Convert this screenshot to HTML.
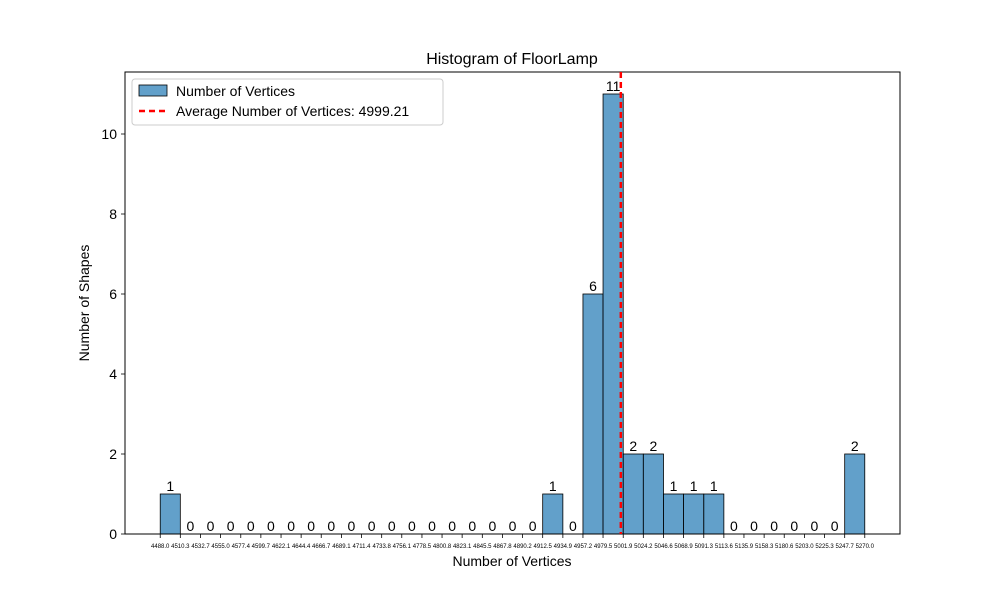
<!DOCTYPE html>
<html><head><meta charset="utf-8"><style>body{margin:0;background:#fff}svg{font-family:"Liberation Sans","DejaVu Sans",sans-serif}</style></head>
<body>
<svg id="chart" width="1000" height="600" xmlns="http://www.w3.org/2000/svg">
<rect width="1000" height="600" fill="#fff"/>
<text x="512" y="64" font-size="16" text-anchor="middle">Histogram of FloorLamp</text>
<g id="bars"></g><g id="labels"></g><g id="ticks"></g>
<rect x="125" y="72" width="775" height="462" fill="none" stroke="#000" stroke-width="1"/>
<text x="512" y="566" font-size="14" text-anchor="middle">Number of Vertices</text>
<text transform="translate(89,303) rotate(-90)" font-size="14" text-anchor="middle">Number of Shapes</text>
<g>
<rect x="132" y="79" width="311" height="46" fill="#fff" stroke="#ccc" rx="3"/>
<rect x="139" y="85" width="28" height="11" fill="#1f77b4" fill-opacity="0.7" stroke="#000" stroke-width="0.8"/>
<text x="176" y="96" font-size="14">Number of Vertices</text>
<line x1="139" y1="111" x2="167" y2="111" stroke="red" stroke-width="2.5" stroke-dasharray="6,4"/>
<text x="176" y="116" font-size="14">Average Number of Vertices: 4999.21</text>
</g>
</svg>
<script>
const binEdges=[4488.0,4510.3,4532.7,4555.0,4577.4,4599.7,4622.1,4644.4,4666.7,4689.1,4711.4,4733.8,4756.1,4778.5,4800.8,4823.1,4845.5,4867.8,4890.2,4912.5,4934.9,4957.2,4979.5,5001.9,5024.2,5046.6,5068.9,5091.3,5113.6,5135.9,5158.3,5180.6,5203.0,5225.3,5247.7,5270.0];
const counts=[1,0,0,0,0,0,0,0,0,0,0,0,0,0,0,0,0,0,0,1,0,6,11,2,2,1,1,1,0,0,0,0,0,0,2];
const yTicks=[0,2,4,6,8,10];
const average=4999.21;
const NS="http://www.w3.org/2000/svg";
const xmin=binEdges[0],xmax=binEdges[binEdges.length-1],pad=(xmax-xmin)*0.05;
const ymaxV=Math.max(...counts)*1.05;
const X=v=>125+(v-(xmin-pad))/((xmax-xmin)+2*pad)*775;
const Y=v=>534-v/ymaxV*462;
function mk(t,a,p){const e=document.createElementNS(NS,t);for(const k in a)e.setAttribute(k,a[k]);p.appendChild(e);return e;}
const bars=document.getElementById('bars'),labels=document.getElementById('labels'),ticks=document.getElementById('ticks');
counts.forEach((c,i)=>{
 const x0=X(binEdges[i]),x1=X(binEdges[i+1]);
 const r=mk('rect',{x:x0,y:Y(c),width:x1-x0,height:Y(0)-Y(c),fill:'#1f77b4','fill-opacity':0.7,stroke:'#000','stroke-width':0.8},bars);
 
 
 const t=mk('text',{x:(x0+x1)/2,y:Y(c)-3,'font-size':14,'text-anchor':'middle'},labels);
 t.textContent=c;
 
 
});
binEdges.forEach(v=>{
 const x=X(v);
 mk('line',{x1:x,y1:534,x2:x,y2:538,stroke:'#000','stroke-width':0.8},ticks);
 const t=mk('text',{x:x,y:548,'font-size':6,'text-anchor':'middle'},ticks);
 t.textContent=v.toFixed(1);
 
 
});
yTicks.forEach(v=>{
 const y=Y(v);
 mk('line',{x1:121,y1:y,x2:125,y2:y,stroke:'#000','stroke-width':0.8},ticks);
 const t=mk('text',{x:117,y:y+5,'font-size':14,'text-anchor':'end'},ticks);
 t.textContent=v;
 
 
});
const l=mk('line',{x1:X(average),x2:X(average),y1:72,y2:534,stroke:'red','stroke-width':2.5,'stroke-dasharray':'6,4'},document.getElementById('chart'));


</script>
</body></html>
